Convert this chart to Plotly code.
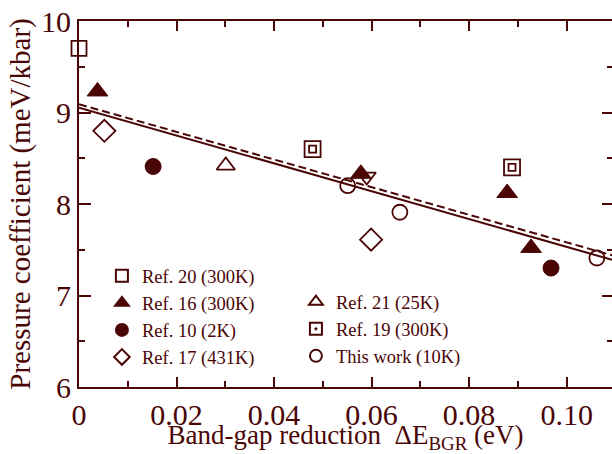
import plotly.graph_objects as go

C = "#4a0505"
FONT = "Liberation Serif"

# data
ref20_x = [0.0]
ref20_y = [9.70]
ref16_x = [0.0038, 0.0578, 0.0878, 0.0927]
ref16_y = [9.23, 8.33, 8.12, 7.52]
ref10_x = [0.0152, 0.0968]
ref10_y = [8.41, 7.30]
ref17_x = [0.0052, 0.0599]
ref17_y = [8.80, 7.61]
ref21_x = [0.0301]
ref21_y = [8.42]
ref21b_x = [0.0590]
ref21b_y = [8.30]
ref19_x = [0.0479, 0.0888]
ref19_y = [8.60, 8.40]
this_x = [0.0551, 0.0658, 0.1062]
this_y = [8.20, 7.91, 7.41]
fit_x = [0.0, 0.1093]
fit_solid_y = [9.053, 7.39]
fit_dash_y = [9.09, 7.44]

fig = go.Figure()

fig.add_trace(go.Scatter(x=fit_x, y=fit_solid_y, mode="lines", line=dict(color=C, width=2),
                         showlegend=False, hoverinfo="skip"))
fig.add_trace(go.Scatter(x=fit_x, y=fit_dash_y, mode="lines", line=dict(color=C, width=2, dash="8px,4px"),
                         showlegend=False, hoverinfo="skip"))

def mk(sym, size, filled=False, white=False):
    if filled:
        return dict(symbol=sym, size=size, color=C, line=dict(color=C, width=1))
    if white:
        return dict(symbol=sym, size=size, color="white", line=dict(color=C, width=1.8))
    return dict(symbol=sym, size=size, color=C, line=dict(color=C, width=1.8))

fig.add_trace(go.Scatter(x=ref20_x, y=ref20_y, mode="markers", name="Ref. 20 (300K)",
                         marker=mk("square", 15, white=True), legend="legend", cliponaxis=False))
fig.add_trace(go.Scatter(x=ref16_x, y=ref16_y, mode="markers", name="Ref. 16 (300K)",
                         marker=mk("triangle-up", 18, filled=True), legend="legend", cliponaxis=False))
fig.add_trace(go.Scatter(x=ref10_x, y=ref10_y, mode="markers", name="Ref. 10 (2K)",
                         marker=mk("circle", 16, filled=True), legend="legend", cliponaxis=False))
fig.add_trace(go.Scatter(x=ref17_x, y=ref17_y, mode="markers", name="Ref. 17 (431K)",
                         marker=mk("diamond-open", 17), legend="legend", cliponaxis=False))

fig.add_trace(go.Scatter(x=ref21_x, y=ref21_y, mode="markers", name="Ref. 21 (25K)",
                         marker=mk("triangle-up-open", 16), legend="legend2", cliponaxis=False))
fig.add_trace(go.Scatter(x=ref21b_x, y=ref21b_y, mode="markers", name="Ref. 21b",
                         marker=mk("triangle-down-open", 16), showlegend=False, cliponaxis=False))
fig.add_trace(go.Scatter(x=ref19_x, y=ref19_y, mode="markers", name="Ref. 19 (300K)",
                         marker=mk("square-dot", 16, white=True), legend="legend2", cliponaxis=False))
fig.add_trace(go.Scatter(x=ref19_x, y=ref19_y, mode="markers", name="Ref. 19 inner",
                         marker=mk("square", 7, white=True), showlegend=False, cliponaxis=False))
fig.add_trace(go.Scatter(x=this_x, y=this_y, mode="markers", name="This work (10K)",
                         marker=mk("circle-open", 15), legend="legend2", cliponaxis=False))

axis_common = dict(showgrid=False, zeroline=False, linecolor=C, linewidth=2,
                   ticks="inside", tickcolor=C, tickwidth=2, automargin=False,
                   tickfont=dict(family=FONT, size=30, color=C))

fig.update_xaxes(range=[0, fit_x[1]], tickvals=[0, 0.02, 0.04, 0.06, 0.08, 0.10],
                 ticktext=["0", "0.02", "0.04", "0.06", "0.08", "0.10"],
                 ticklen=10, showline=True, mirror="ticks",
                 minor=dict(tickvals=[0.01, 0.03, 0.05, 0.07, 0.09], ticklen=6, tickcolor=C, tickwidth=2, ticks="inside"),
                 title=dict(text="Band-gap reduction \u00a0\u0394E<sub>BGR</sub> (eV)",
                            font=dict(family=FONT, size=27, color=C), standoff=8),
                 **axis_common)
fig.update_yaxes(range=[6, 10], tickvals=[6, 7, 8, 9, 10], ticklen=12, showline=True, mirror=False,
                 minor=dict(tickvals=[6.5, 7.5, 8.5, 9.5], ticklen=6, tickcolor=C, tickwidth=2, ticks="inside"),
                 title=dict(text="Pressure coefficient (meV/kbar)",
                            font=dict(family=FONT, size=29, color=C), standoff=2),
                 **axis_common)

fig.update_layout(
    yaxis2=dict(overlaying="y", side="right", range=[6, 10], showline=False, showgrid=False, zeroline=False,
                ticks="inside", tickvals=[6, 7, 8, 9, 10], ticklen=10, tickcolor=C, tickwidth=2,
                showticklabels=False, automargin=False,
                minor=dict(tickvals=[6.5, 7.5, 8.5, 9.5], ticklen=5, tickcolor=C, tickwidth=2, ticks="inside")),
)
# invisible trace to activate the right-hand tick axis
fig.add_trace(go.Scatter(x=[None], y=[None], yaxis="y2", showlegend=False, hoverinfo="skip"))

leg_common = dict(font=dict(family=FONT, size=18.5, color=C), bgcolor="rgba(0,0,0,0)",
                  borderwidth=0, itemsizing="constant", tracegroupgap=0,
                  xanchor="left", yanchor="top")
fig.update_layout(
    width=612, height=454,
    margin=dict(l=79, r=0, t=21, b=67),
    paper_bgcolor="white", plot_bgcolor="white",
    legend=dict(x=0.043, y=0.3545, **leg_common),
    legend2=dict(x=0.407, y=0.2835, **leg_common),
)

fig.write_html("out.html")
